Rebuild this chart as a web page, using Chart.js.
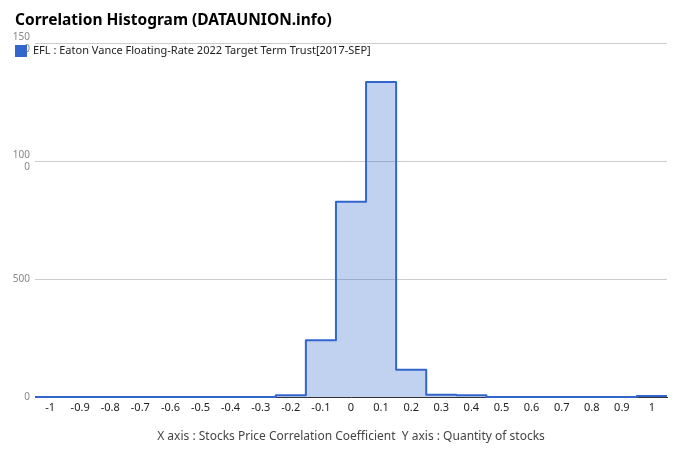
<!DOCTYPE html>
<html>
<head>
<meta charset="utf-8">
<script src="https://cdn.jsdelivr.net/npm/chart.js@4"></script>
<style>
  html, body { margin: 0; padding: 0; background: #fff; }
  #wrap { width: 680px; height: 462px; }
</style>
</head>
<body>
<div id="wrap"><canvas id="histChart" width="680" height="462"></canvas></div>
<script>
// bins (correlation coefficient) and stock counts
const bins = [-1, -0.9, -0.8, -0.7, -0.6, -0.5, -0.4, -0.3, -0.2, -0.1, 0, 0.1, 0.2, 0.3, 0.4, 0.5, 0.6, 0.7, 0.8, 0.9, 1];
const binLabels = ["-1", "-0.9", "-0.8", "-0.7", "-0.6", "-0.5", "-0.4", "-0.3", "-0.2", "-0.1", "0", "0.1", "0.2", "0.3", "0.4", "0.5", "0.6", "0.7", "0.8", "0.9", "1"];
const counts = [0, 0, 0, 0, 0, 0, 0, 0, 7, 240, 827, 1335, 115, 10, 7, 0, 0, 0, 0, 0, 4];
const yTicks = [0, 500, 1000, 1500];
const chartTitle = "Correlation Histogram (DATAUNION.info)";
const seriesName = "EFL : Eaton Vance Floating-Rate 2022 Target Term Trust[2017-SEP]";

const halfBin = 0.05;
const FONT = "'Noto Sans', 'DejaVu Sans', sans-serif";

// step outline: each bin starts at its left edge, last one closed at the right edge
const stepPoints = bins.map((b, i) => ({ x: b - halfBin, y: counts[i] }));
stepPoints.push({ x: bins[bins.length - 1] + halfBin, y: counts[counts.length - 1] });

// title + legend drawn at fixed spots like the original (legend sits over the plot)
const headerPlugin = {
  id: 'header',
  afterDraw(chart) {
    const ctx = chart.ctx;
    ctx.save();
    ctx.textBaseline = 'middle';
    ctx.fillStyle = '#000';
    ctx.font = "bold 15.5px " + FONT;
    ctx.fillText(chartTitle, 15, 20.5);
    ctx.fillStyle = '#3366cc';
    ctx.fillRect(15, 45, 12, 12);
    ctx.fillStyle = '#222';
    ctx.font = "11px " + FONT;
    ctx.fillText(seriesName, 33, 51);
    ctx.restore();
  }
};

new Chart(document.getElementById("histChart"), {
  type: 'line',
  data: {
    datasets: [{
      label: seriesName,
      data: stepPoints,
      stepped: 'before',
      borderColor: '#3366cc',
      borderWidth: 2,
      borderJoinStyle: 'round',
      backgroundColor: 'rgba(51, 102, 204, 0.3)',
      fill: 'origin',
      pointRadius: 0,
      clip: 4
    }]
  },
  options: {
    responsive: false,
    animation: false,
    layout: { padding: { left: 0, right: 13, top: 43, bottom: 0 } },
    plugins: {
      legend: { display: false },
      tooltip: { enabled: false },
      title: { display: false }
    },
    scales: {
      x: {
        type: 'linear',
        min: bins[0] - halfBin,
        max: bins[bins.length - 1] + halfBin,
        afterBuildTicks: s => { s.ticks = bins.map(v => ({ value: v })); },
        afterFit: s => { s.height = 65; },
        ticks: {
          autoSkip: false,
          maxRotation: 0,
          padding: 4,
          color: '#222',
          font: { family: FONT, size: 11 },
          callback: (v) => binLabels[bins.findIndex(b => Math.abs(b - v) < 1e-6)]
        },
        grid: { display: false, drawTicks: false },
        border: { display: true, color: '#333', width: 1 },
        title: {
          display: true,
          text: "X axis : Stocks Price Correlation Coefficient  Y axis : Quantity of stocks",
          color: '#444',
          font: { family: FONT, size: 12 },
          padding: { top: 0, bottom: 18 }
        }
      },
      y: {
        min: 0,
        max: 1500,
        afterBuildTicks: s => { s.ticks = yTicks.map(v => ({ value: v })); },
        afterFit: s => { s.width = 35; },
        ticks: {
          padding: 5,
          color: '#888',
          font: { family: FONT, size: 10 },
          callback: (v) => {
            const t = String(v);
            return t.length > 3 ? [t.slice(0, 3), t.slice(3)] : t;
          }
        },
        grid: { color: '#cccccc', drawTicks: false },
        border: { display: false }
      }
    }
  },
  plugins: [headerPlugin]
});
</script>
</body>
</html>
